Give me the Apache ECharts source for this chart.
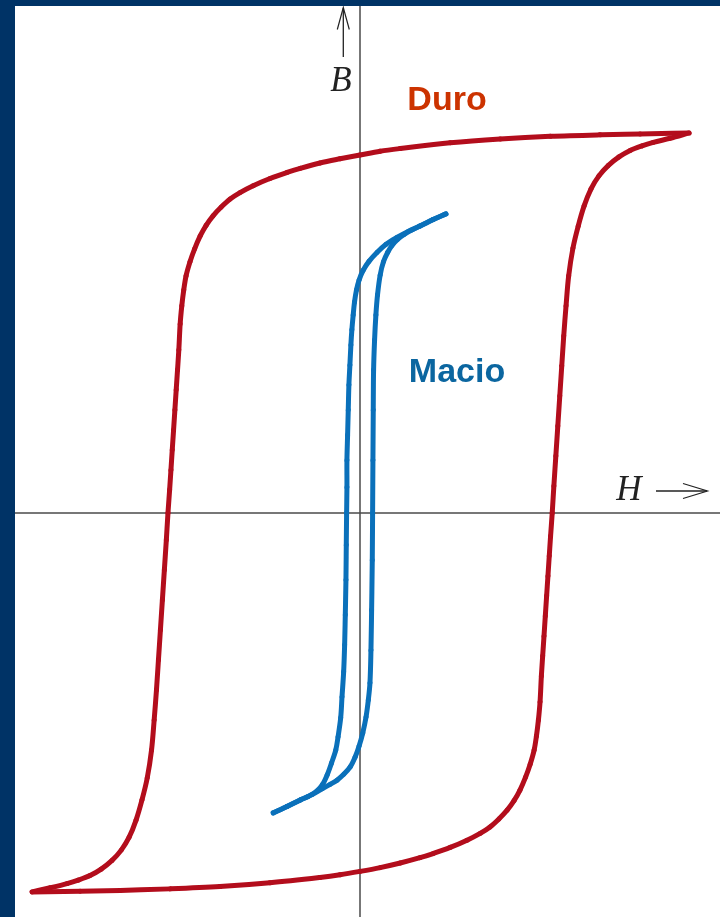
<!DOCTYPE html>
<html>
<head>
<meta charset="utf-8">
<title>Histerese: material duro e macio</title>
<script src="https://cdn.jsdelivr.net/npm/echarts@6/dist/echarts.min.js"></script>
<style>
  html, body { margin: 0; padding: 0; width: 720px; height: 917px; background: #003366; overflow: hidden; }
  #chart { position: absolute; left: 15px; top: 6px; width: 705px; height: 911px; background: #ffffff; }
</style>
</head>
<body>
<div id="chart"></div>
<script>
// Axis ranges (H horizontal, B vertical), normalised so the hard loop saturates near 1
const H_RANGE = [-1.049, 1.094];
const B_RANGE = [-1.063, 1.334];

// Hard material ("Duro"): descending branch, from +saturation to -saturation
const duroDescH = [1.000, 0.851, 0.729, 0.578, 0.426, 0.274, 0.122, 0.061, 0.000, -0.061,
  -0.122, -0.182, -0.222, -0.274, -0.325, -0.365, -0.395, -0.422, -0.447, -0.468,
  -0.486, -0.503, -0.517, -0.529, -0.536, -0.542, -0.547, -0.551, -0.555, -0.559,
  -0.563, -0.567, -0.571, -0.575, -0.579, -0.584, -0.589, -0.595, -0.601, -0.607,
  -0.613, -0.619, -0.626, -0.634, -0.647, -0.663, -0.681, -0.702, -0.726, -0.754,
  -0.787, -0.821, -0.857, -0.891, -0.942, -0.997];
const duroDescB = [1.000, 0.997, 0.995, 0.991, 0.984, 0.974, 0.959, 0.952, 0.942, 0.932,
  0.921, 0.907, 0.896, 0.880, 0.861, 0.843, 0.826, 0.805, 0.782, 0.757,
  0.729, 0.695, 0.661, 0.624, 0.587, 0.545, 0.497, 0.429, 0.376, 0.324,
  0.271, 0.218, 0.166, 0.113, 0.061, 0.000, -0.071, -0.150, -0.229, -0.308,
  -0.387, -0.466, -0.545, -0.624, -0.697, -0.755, -0.808, -0.853, -0.887, -0.914,
  -0.937, -0.954, -0.966, -0.975, -0.986, -0.997];

// Hard material: ascending branch, from -saturation back to +saturation
const duroAscH = [-0.997, -0.851, -0.729, -0.578, -0.426, -0.274, -0.122, -0.061, 0.000, 0.061,
  0.122, 0.182, 0.222, 0.274, 0.325, 0.365, 0.395, 0.422, 0.447, 0.468,
  0.486, 0.503, 0.517, 0.529, 0.536, 0.542, 0.547, 0.551, 0.555, 0.559,
  0.563, 0.567, 0.571, 0.575, 0.579, 0.584, 0.589, 0.595, 0.601, 0.607,
  0.613, 0.619, 0.626, 0.634, 0.647, 0.663, 0.681, 0.702, 0.726, 0.754,
  0.787, 0.821, 0.857, 0.891, 0.942, 1.000];
const duroAscB = [-0.997, -0.995, -0.993, -0.989, -0.983, -0.973, -0.959, -0.952, -0.943, -0.933,
  -0.921, -0.907, -0.896, -0.880, -0.861, -0.843, -0.826, -0.805, -0.782, -0.757,
  -0.729, -0.695, -0.661, -0.624, -0.587, -0.545, -0.497, -0.429, -0.376, -0.324,
  -0.271, -0.218, -0.166, -0.113, -0.061, 0.000, 0.071, 0.150, 0.229, 0.308,
  0.387, 0.466, 0.545, 0.624, 0.697, 0.755, 0.808, 0.853, 0.887, 0.914,
  0.937, 0.954, 0.966, 0.975, 0.986, 1.000];

// Soft material ("Macio"): descending branch
const macioDescH = [0.261, 0.222, 0.182, 0.146, 0.112, 0.079, 0.052, 0.027, 0.009, -0.003,
  -0.011, -0.017, -0.021, -0.025, -0.028, -0.031, -0.034, -0.036, -0.038, -0.040,
  -0.040, -0.041, -0.042, -0.043, -0.045, -0.047, -0.050, -0.055, -0.059, -0.067,
  -0.074, -0.087, -0.100, -0.114, -0.132, -0.158, -0.182, -0.222, -0.264];
const macioDescB = [0.787, 0.772, 0.755, 0.741, 0.725, 0.707, 0.686, 0.662, 0.638, 0.613,
  0.587, 0.555, 0.521, 0.482, 0.442, 0.389, 0.337, 0.271, 0.205, 0.139,
  0.068, 0.000, -0.084, -0.176, -0.268, -0.347, -0.418, -0.484, -0.539, -0.589,
  -0.624, -0.658, -0.689, -0.714, -0.732, -0.746, -0.755, -0.772, -0.789];

// Soft material: ascending branch
const macioAscH = [-0.264, -0.222, -0.182, -0.146, -0.116, -0.091, -0.070, -0.049, -0.030, -0.015,
  -0.003, 0.008, 0.018, 0.025, 0.030, 0.033, 0.035, 0.037, 0.038, 0.039,
  0.040, 0.041, 0.044, 0.048, 0.053, 0.061, 0.071, 0.084, 0.097, 0.114,
  0.134, 0.158, 0.182, 0.222, 0.261];
const macioAscB = [-0.789, -0.772, -0.755, -0.741, -0.726, -0.714, -0.703, -0.687, -0.668, -0.642,
  -0.613, -0.579, -0.537, -0.492, -0.447, -0.361, -0.255, -0.124, 0.000, 0.139,
  0.271, 0.376, 0.455, 0.521, 0.574, 0.626, 0.661, 0.686, 0.704, 0.720,
  0.733, 0.745, 0.755, 0.772, 0.787];

const RED = '#b30d1c';
const BLUE = '#0a70ba';

function pairs(xs, ys) { return xs.map((x, i) => [x, ys[i]]); }

// Cubic Bezier pieces through screen points, with chord-length tangents
function bezierPieces(p) {
  const n = p.length;
  const d = [];
  for (let i = 0; i < n - 1; i++) {
    d.push(Math.hypot(p[i + 1][0] - p[i][0], p[i + 1][1] - p[i][1]) || 1e-6);
  }
  const tan = p.map((pt, i) => {
    if (i === 0) return [(p[1][0] - p[0][0]) / d[0], (p[1][1] - p[0][1]) / d[0]];
    if (i === n - 1) return [(p[n - 1][0] - p[n - 2][0]) / d[n - 2], (p[n - 1][1] - p[n - 2][1]) / d[n - 2]];
    const s = d[i - 1] + d[i];
    return [(p[i + 1][0] - p[i - 1][0]) / s, (p[i + 1][1] - p[i - 1][1]) / s];
  });
  const pieces = [];
  for (let i = 0; i < n - 1; i++) {
    const k = d[i] / 3;
    pieces.push({
      x1: p[i][0], y1: p[i][1],
      cpx1: p[i][0] + tan[i][0] * k, cpy1: p[i][1] + tan[i][1] * k,
      cpx2: p[i + 1][0] - tan[i + 1][0] * k, cpy2: p[i + 1][1] - tan[i + 1][1] * k,
      x2: p[i + 1][0], y2: p[i + 1][1]
    });
  }
  return pieces;
}

// One branch of a loop: the points are placed by the cartesian axes, then joined smoothly
function branch(name, xs, ys, color) {
  const pts = pairs(xs, ys);
  return {
    name: name,
    type: 'custom',
    coordinateSystem: 'cartesian2d',
    data: pts,
    encode: { x: 0, y: 1 },
    silent: true,
    animation: false,
    z: 3,
    renderItem: function (params, api) {
      if (params.dataIndex !== 0) return null;
      const screen = pts.map(v => api.coord(v));
      return {
        type: 'group',
        children: bezierPieces(screen).map(shape => ({
          type: 'bezierCurve',
          shape: shape,
          style: { stroke: color, lineWidth: 5, lineCap: 'round', fill: null }
        }))
      };
    }
  };
}

const chart = echarts.init(document.getElementById('chart'), null, { renderer: 'canvas' });

const axisStyle = { show: true, onZero: true, lineStyle: { color: '#4a4a4a', width: 1.5 } };

chart.setOption({
  animation: false,
  backgroundColor: '#ffffff',
  grid: { left: 0, right: 0, top: 0, bottom: 0 },
  xAxis: {
    type: 'value', min: H_RANGE[0], max: H_RANGE[1],
    axisLine: axisStyle, axisTick: { show: false }, axisLabel: { show: false }, splitLine: { show: false }
  },
  yAxis: {
    type: 'value', min: B_RANGE[0], max: B_RANGE[1],
    axisLine: axisStyle, axisTick: { show: false }, axisLabel: { show: false }, splitLine: { show: false }
  },
  series: [
    branch('Duro', duroDescH, duroDescB, RED),
    branch('Duro', duroAscH, duroAscB, RED),
    branch('Macio', macioDescH, macioDescB, BLUE),
    branch('Macio', macioAscH, macioAscB, BLUE)
  ],
  graphic: [
    // B axis label with its arrow
    { type: 'line', shape: { x1: 328.3, y1: 51, x2: 328.3, y2: 2 }, style: { stroke: '#222', lineWidth: 1.3 } },
    { type: 'polyline', shape: { points: [[322.3, 23.5], [328.3, 1.5], [334.3, 23.5]] }, style: { stroke: '#222', lineWidth: 1.2, fill: null } },
    { type: 'text', x: 326, y: 76, style: { text: 'B', font: 'italic 35px "Liberation Serif"', fill: '#222', align: 'center', verticalAlign: 'middle' } },
    // H axis label with its arrow
    { type: 'text', x: 614, y: 485, style: { text: 'H', font: 'italic 35px "Liberation Serif"', fill: '#222', align: 'center', verticalAlign: 'middle' } },
    { type: 'line', shape: { x1: 641, y1: 485, x2: 692, y2: 485 }, style: { stroke: '#222', lineWidth: 1.3 } },
    { type: 'polyline', shape: { points: [[668, 477.5], [692.5, 485], [668, 492.5]] }, style: { stroke: '#222', lineWidth: 1.2, fill: null } },
    // Material labels
    { type: 'text', x: 432, y: 95, style: { text: 'Duro', font: 'bold 34px "Liberation Sans"', fill: '#cc3300', align: 'center', verticalAlign: 'middle' } },
    { type: 'text', x: 442, y: 367, style: { text: 'Macio', font: 'bold 34px "Liberation Sans"', fill: '#0b66a0', align: 'center', verticalAlign: 'middle' } }
  ]
});
</script>
</body>
</html>
